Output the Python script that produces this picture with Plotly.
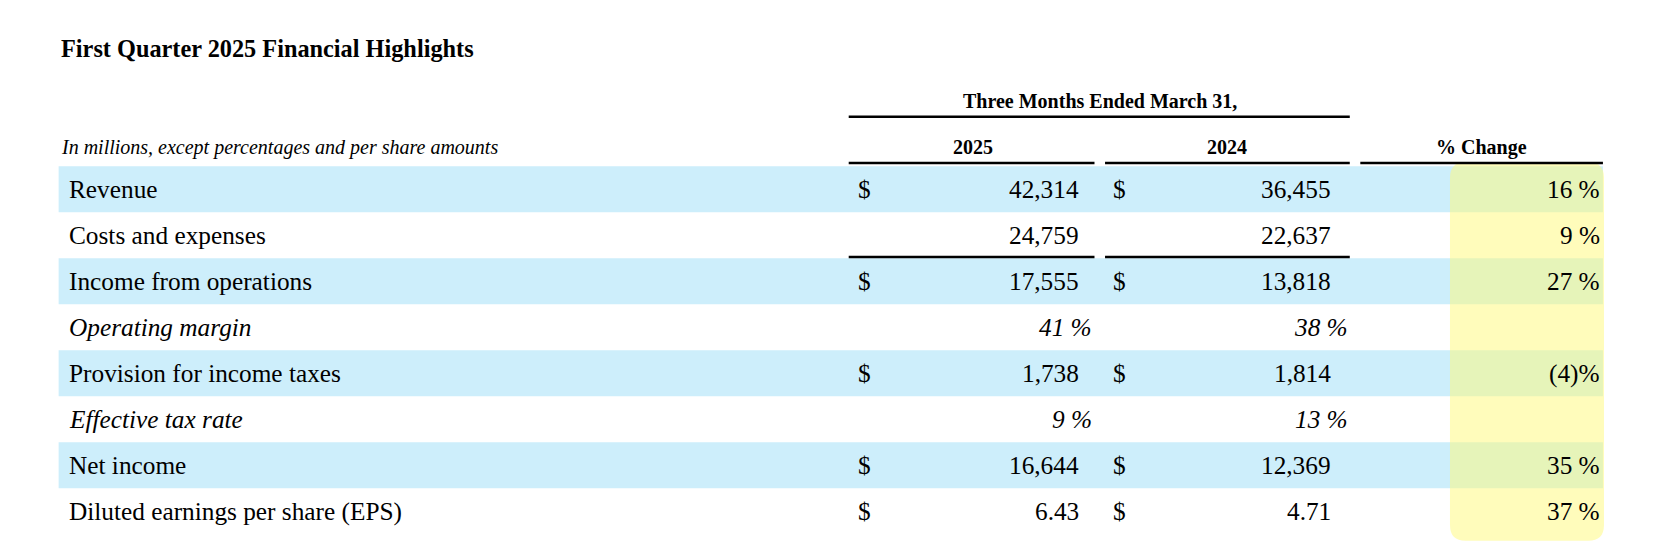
import plotly.graph_objects as go

title = "First Quarter 2025 Financial Highlights"
period_header = "Three Months Ended March 31,"
note = "In millions, except percentages and per share amounts"
col_headers = ["2025", "2024", "% Change"]
row_labels = ["Revenue", "Costs and expenses", "Income from operations", "Operating margin",
              "Provision for income taxes", "Effective tax rate", "Net income",
              "Diluted earnings per share (EPS)"]
vals_2025 = ["42,314", "24,759", "17,555", "41 %", "1,738", "9 %", "16,644", "6.43"]
vals_2024 = ["36,455", "22,637", "13,818", "38 %", "1,814", "13 %", "12,369", "4.71"]
pct_change = ["16 %", "9 %", "27 %", "", "(4)%", "", "35 %", "37 %"]
dollar = [True, False, True, False, True, False, True, True]
italic = [False, False, False, True, False, True, False, False]
shaded = [True, False, True, False, True, False, True, False]

FONT = "Liberation Serif"
S = 1654 / 1568
fs = lambda v: round(v * S, 1)
fig = go.Figure()
shapes, ann = [], []
top, rh = 150, 43.6
for i, lab in enumerate(row_labels):
    y0 = top + i * rh
    yc = y0 + rh / 2
    if shaded[i]:
        shapes.append(dict(type="rect", x0=48, x1=1512, y0=y0, y1=y0 + rh,
                           fillcolor="#cdeefb", line_width=0, layer="below"))
    lt = f"<i>{lab}</i>" if italic[i] else lab
    ann.append(dict(x=56, y=yc, text=lt, xanchor="left", font=dict(size=fs(24))))
    if italic[i]:
        ann.append(dict(x=1030, y=yc, text=f"<i>{vals_2025[i]}</i>", xanchor="right", font=dict(size=fs(24))))
        ann.append(dict(x=1272, y=yc, text=f"<i>{vals_2024[i]}</i>", xanchor="right", font=dict(size=fs(24))))
    else:
        ann.append(dict(x=1017, y=yc, text=vals_2025[i], xanchor="right", font=dict(size=fs(24))))
        ann.append(dict(x=1256, y=yc, text=vals_2024[i], xanchor="right", font=dict(size=fs(24))))
    if dollar[i]:
        ann.append(dict(x=804, y=yc, text="$", xanchor="left", font=dict(size=fs(24))))
        ann.append(dict(x=1046, y=yc, text="$", xanchor="left", font=dict(size=fs(24))))
    if pct_change[i]:
        ann.append(dict(x=1511, y=yc, text=pct_change[i], xanchor="right", font=dict(size=fs(24))))

shapes.append(dict(type="path",
                   path="M 1382,146 L 1498,146 Q 1513,146 1513,161 L 1513,490 Q 1513,505 1498,505 "
                        "L 1382,505 Q 1367,505 1367,490 L 1367,161 Q 1367,146 1382,146 Z",
                   fillcolor="rgba(255,250,120,0.5)", line_width=0, layer="below"))
for x0, x1, y in [(797, 1272, 103), (797, 1030, 147), (1040, 1272, 147), (1282, 1512, 147),
                  (797, 1030, 236), (1040, 1272, 236)]:
    shapes.append(dict(type="line", x0=x0, x1=x1, y0=y, y1=y, line=dict(color="black", width=2.5)))

ann.append(dict(x=48, y=38, text=f"<b>{title}</b>", xanchor="left", font=dict(size=fs(23))))
ann.append(dict(x=1035, y=88, text=f"<b>{period_header}</b>", font=dict(size=fs(19))))
ann.append(dict(x=48, y=132, text=f"<i>{note}</i>", xanchor="left", font=dict(size=fs(19))))
for x, t in zip([915, 1156, 1397], col_headers):
    ann.append(dict(x=x, y=132, text=f"<b>{t}</b>", font=dict(size=fs(19))))

for a in ann:
    a.update(showarrow=False, xref="x", yref="y", yanchor="middle")
    a["font"].update(family=FONT, color="black")

fig.update_layout(width=1654, height=555, margin=dict(l=0, r=0, t=0, b=0),
                  paper_bgcolor="white", plot_bgcolor="white",
                  xaxis=dict(range=[0, 1568], visible=False, fixedrange=True),
                  yaxis=dict(range=[555 / S, 0], visible=False, fixedrange=True),
                  shapes=shapes, annotations=ann, showlegend=False)
fig.write_html("out.html")
